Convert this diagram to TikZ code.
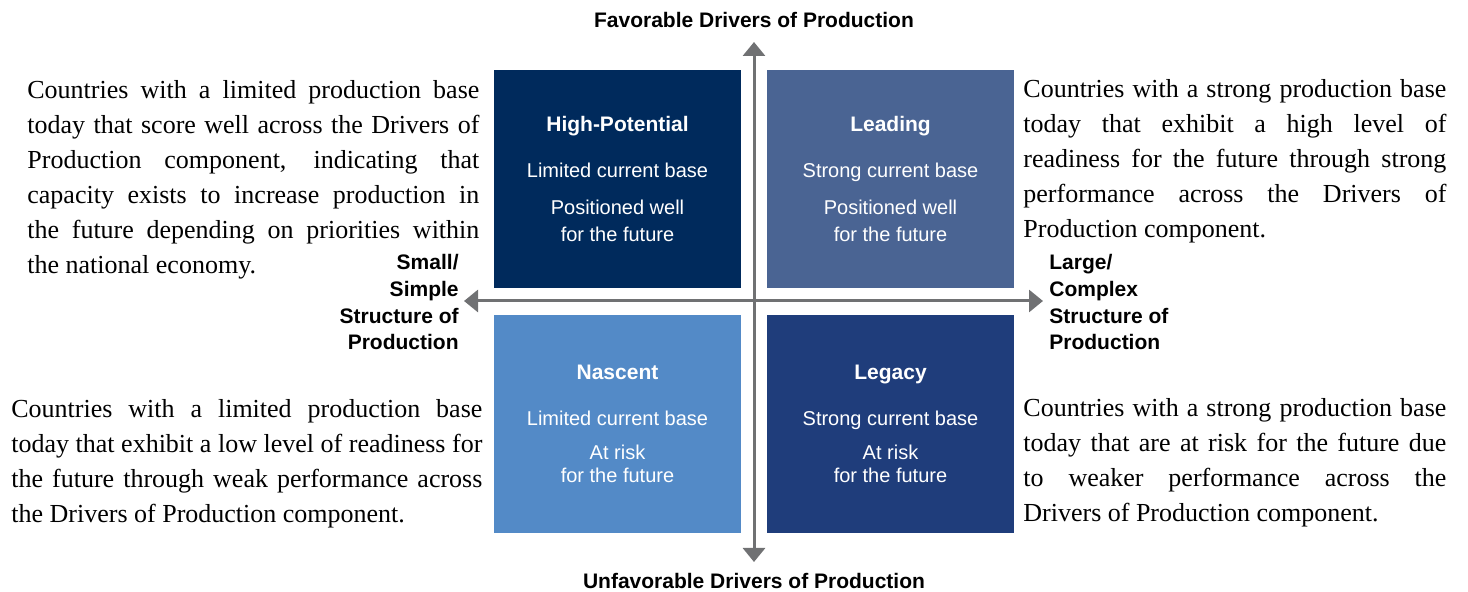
\documentclass[tikz,border=0pt]{standalone}
\usepackage{fontspec}
\setmainfont{Liberation Serif}
\setsansfont{Liberation Sans}
\usetikzlibrary{positioning, arrows.meta}

\definecolor{hipot}{RGB}{0,42,92}
\definecolor{leadblue}{RGB}{74,100,147}
\definecolor{nascentblue}{RGB}{83,138,199}
\definecolor{legacyblue}{RGB}{31,61,123}
\definecolor{axisgray}{RGB}{112,113,115}

\newcommand{\quadtitle}[1]{{\bfseries\fontsize{10.5}{13.5}\selectfont #1}}

\begin{document}
\begin{tikzpicture}[x=0.5pt,y=-0.5pt,
		quad/.style={minimum width=123.5pt,minimum height=109pt,inner sep=0pt,
			text=white,align=center,font=\sffamily\fontsize{10}{13.5}\selectfont},
		desc/.style={inner sep=0pt,anchor=north west,align=justify,
			font=\fontsize{13}{17.5}\selectfont},
		axislabel/.style={inner sep=0pt,font=\sffamily\bfseries\fontsize{10.5}{13.35}\selectfont},
		axis/.style={draw=axisgray,line width=1.5pt,
			{Triangle[width=11pt,length=7pt]}-{Triangle[width=11pt,length=7pt]}}]
	\useasboundingbox (0,0) rectangle (1468,592);

	% the four quadrants
	\node[quad,fill=hipot] (hp) at (617.5,179)
		{\quadtitle{High-Potential}\\[9.5pt] Limited current base\\[5pt] Positioned well\\ for the future};
	\node[quad,fill=leadblue] (lead) at (890.5,179)
		{\quadtitle{Leading}\\[9.5pt] Strong current base\\[5pt] Positioned well\\ for the future};
	\node[quad,fill=nascentblue] (nasc) at (617.5,424)
		{\quadtitle{Nascent}\\[9.5pt] Limited current base\\[3.5pt] At risk\\[-2pt] for the future};
	\node[quad,fill=legacyblue] (leg) at (890.5,424)
		{\quadtitle{Legacy}\\[9.5pt] Strong current base\\[3.5pt] At risk\\[-2pt] for the future};

	% axes
	\coordinate (up) at (754,42);
	\coordinate (down) at (754,562);
	\coordinate (left) at (464,301);
	\coordinate (right) at (1043,301);
	\draw[axis] (up) -- (down);
	\draw[axis] (left) -- (right);

	\node[axislabel] (fav) at (754,20) {Favorable Drivers of Production};
	\node[axislabel] (unfav) at (754,581) {Unfavorable Drivers of Production};
	\node[axislabel,anchor=north east,align=right] (small) at (459,254)
		{Small/\\ Simple\\ Structure of\\ Production};
	\node[axislabel,anchor=north west,align=left] (large) at (1049,254)
		{Large/\\ Complex\\ Structure of\\ Production};

	% descriptions
	\node[desc,text width=226pt] (hpdesc) at (27,80)
		{Countries with a limited production base\linebreak
		today that score well across the Drivers of\linebreak
		Production component, indicating that\linebreak
		capacity exists to increase production in\linebreak
		the future depending on priorities within\linebreak
		the national economy.};
	\node[desc,text width=211.5pt] (leaddesc) at (1023,79)
		{Countries with a strong production base\linebreak
		today that exhibit a high level of\linebreak
		readiness for the future through strong\linebreak
		performance across the Drivers of\linebreak
		Production component.};
	\node[desc,text width=235.5pt] (nascdesc) at (11,399)
		{Countries with a limited production base\linebreak
		today that exhibit a low level of readiness for\linebreak
		the future through weak performance across\linebreak
		the Drivers of Production component.};
	\node[desc,text width=211.5pt] (legdesc) at (1023,398)
		{Countries with a strong production base\linebreak
		today that are at risk for the future due\linebreak
		to weaker performance across the\linebreak
		Drivers of Production component.};
\end{tikzpicture}
\end{document}
